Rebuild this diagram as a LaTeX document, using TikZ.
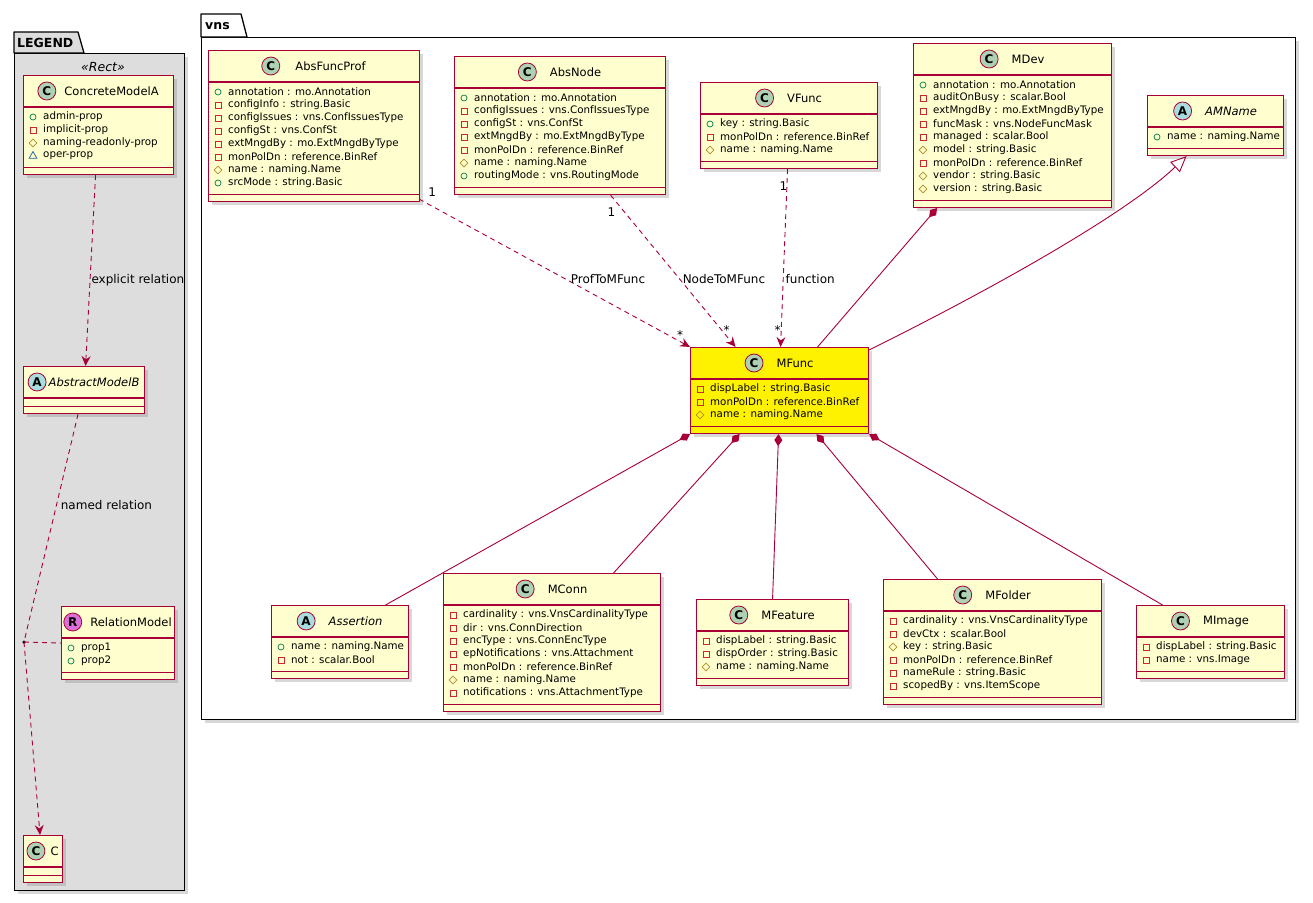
\documentclass[tikz,border=0pt]{standalone}
\usepackage{fontspec}
\setmainfont{DejaVu Sans}
\usepackage{xcolor}
\usepackage{tikz}
\usetikzlibrary{shapes,shapes.geometric,arrows.meta,calc,positioning,shadows}

\definecolor{crim}{HTML}{A80036}
\definecolor{cbox}{HTML}{FEFECE}
\definecolor{cicoC}{HTML}{ADD1B2}
\definecolor{cicoA}{HTML}{A9DCDF}
\definecolor{cicoR}{HTML}{DA70D6}
\definecolor{cpub}{HTML}{038048}
\definecolor{cpriv}{HTML}{C82930}
\definecolor{cprot}{HTML}{B38D22}
\definecolor{cpkg}{HTML}{1963A0}
\definecolor{cleg}{HTML}{DDDDDD}

\tikzset{
	shad/.style={drop shadow={shadow xshift=3pt, shadow yshift=-3pt, opacity=0.3}},
	cls/.style={rectangle, draw=crim, line width=1.1pt, clsfill, inner sep=0pt, shad},
	clsfill/.style={fill=cbox},
	clsrule/.style={draw=crim, line width=1.1pt},
	ttlC/.style={inner sep=0pt, font=\fontsize{11.5}{13}\selectfont},
	ttlA/.style={inner sep=0pt, font=\fontsize{11.5}{13}\selectfont\itshape},
	ttlR/.style={ttlC},
	ico/.style={circle, draw=crim, line width=0.8pt, minimum size=18pt, inner sep=0pt, font=\bfseries\fontsize{12}{12}\selectfont},
	icoC/.style={ico, fill=cicoC},
	icoA/.style={ico, fill=cicoA},
	icoR/.style={ico, fill=cicoR},
	attr/.style={anchor=west, inner sep=0pt, font=\fontsize{10.3}{12}\selectfont},
	vpub/.style={circle, draw=cpub, line width=0.7pt, minimum size=6pt, inner sep=0pt},
	vpriv/.style={rectangle, draw=cpriv, line width=0.7pt, minimum size=6pt, inner sep=0pt},
	vprot/.style={diamond, draw=cprot, line width=0.7pt, minimum size=8pt, inner sep=0pt},
	vpkg/.style={regular polygon, regular polygon sides=3, draw=cpkg, line width=0.7pt, minimum size=9pt, inner sep=0pt},
	pkg/.style={rectangle, anchor=north west, draw=black, line width=1.3pt, inner sep=0pt, shad},
	pkgline/.style={draw=black, line width=1.3pt, line join=round},
	pkgttl/.style={anchor=west, inner sep=0pt, font=\bfseries\fontsize{12.5}{14}\selectfont},
	stereo/.style={inner sep=0pt, font=\itshape\fontsize{12.5}{14}\selectfont},
	dep/.style={draw=crim, line width=0.9pt, dash pattern=on 5pt off 4pt, -{Stealth[length=10pt, width=9pt, inset=3.5pt]}},
	deplink/.style={draw=crim, line width=0.9pt, dash pattern=on 5pt off 4pt},
	comp/.style={draw=crim, line width=0.9pt, {Diamond[length=12pt, width=8pt]}-},
	gen/.style={draw=crim, line width=0.9pt, -{Triangle[open, length=16pt, width=14pt]}},
	lbl/.style={inner sep=0pt, font=\fontsize{12}{14}\selectfont},
	mult/.style={inner sep=0pt, font=\fontsize{12}{14}\selectfont},
	dotpt/.style={circle, fill=black, inner sep=0pt, minimum size=3.5pt}
}

% #1 gap, #2 name, #3 x, #4 y, #5 width, #6 lines, #7 kind, #8 title, #9 attributes
\newcommand{\umlclass}[9][13]{%
	\pgfmathsetmacro\clsheight{47+13*#6}
	\node[cls, minimum width=#5, minimum height=\clsheight, anchor=north west] (#2) at (#3,#4) {};
	\draw[clsrule] ([yshift=-32]#2.north west) -- ([yshift=-32]#2.north east);
	\draw[clsrule] ([yshift=8]#2.south west) -- ([yshift=8]#2.south east);
	\pgfmathsetmacro\ttlshift{(18+#1)/2}
	\node[ttl#7] (#2-ttl) at ([xshift=\ttlshift, yshift=-16]#2.north) {#8};
	\node[ico#7, left=#1pt of #2-ttl] {#7};
	\ifnum#6>0
	\foreach \vis/\txt [count=\i from 0] in {#9} {
		\node[\vis] at ([xshift=10, yshift=-42-13*\i]#2.north west) {};
		\node[attr] at ([xshift=20, yshift=-42-13*\i]#2.north west) {\txt};
	}
	\fi
}

\begin{document}
\begin{tikzpicture}[x=1pt, y=-1pt]
    \fill[white] (0,0) rectangle (1313,902);
    \useasboundingbox (0,0) rectangle (1313,902);

    % packages
    \node[pkg, fill=cleg, minimum width=170, minimum height=837] (legend) at (14,53) {};
    \draw[pkgline, fill=cleg] (14,53) -- (14,32) -- (78,32) -- (84,53) -- cycle;
    \node[pkgttl] at (17,43) {LEGEND};
    \node[stereo] at (103,67) {«Rect»};

    \node[pkg, fill=white, minimum width=1094, minimum height=682] (vns) at (201,37) {};
    \draw[pkgline, fill=white] (201,37) -- (201,14) -- (241,14) -- (247,37) -- cycle;
    \node[pkgttl] at (205,26) {vns};

    % legend classes
    \umlclass[8]{cma}{23}{75}{150}{4}{C}{ConcreteModelA}{vpub/admin-prop, vpriv/implicit-prop, vprot/naming-readonly-prop, vpkg/oper-prop}
    \umlclass[2]{amb}{23}{366}{121}{0}{A}{AbstractModelB}{}
    \umlclass[8]{rm}{61}{606}{113}{2}{R}{RelationModel}{vpub/prop1, vpub/prop2}
    \umlclass[5]{c}{23}{835}{39}{0}{C}{C}{}
    \node[dotpt] (nr) at (24,642) {};

    % vns classes
    \umlclass[15]{afp}{208}{50}{211}{8}{C}{AbsFuncProf}{vpub/annotation : mo.Annotation, vpriv/configInfo : string.Basic, vpriv/configIssues : vns.ConfIssuesType, vpriv/configSt : vns.ConfSt, vpriv/extMngdBy : mo.ExtMngdByType, vpriv/monPolDn : reference.BinRef, vprot/name : naming.Name, vpub/srcMode : string.Basic}
    \umlclass{an}{454}{56}{211}{7}{C}{AbsNode}{vpub/annotation : mo.Annotation, vpriv/configIssues : vns.ConfIssuesType, vpriv/configSt : vns.ConfSt, vpriv/extMngdBy : mo.ExtMngdByType, vpriv/monPolDn : reference.BinRef, vprot/name : naming.Name, vpub/routingMode : vns.RoutingMode}
    \umlclass{vf}{700}{82}{177}{3}{C}{VFunc}{vpub/key : string.Basic, vpriv/monPolDn : reference.BinRef, vprot/name : naming.Name}
    \umlclass{mdev}{913}{43}{198}{9}{C}{MDev}{vpub/annotation : mo.Annotation, vpriv/auditOnBusy : scalar.Bool, vpriv/extMngdBy : mo.ExtMngdByType, vpriv/funcMask : vns.NodeFuncMask, vpriv/managed : scalar.Bool, vprot/model : string.Basic, vpriv/monPolDn : reference.BinRef, vprot/vendor : string.Basic, vprot/version : string.Basic}
    \umlclass{amname}{1147}{95}{136}{1}{A}{AMName}{vpub/name : naming.Name}
    \begin{scope}[clsfill/.style={fill=yellow}]
    \umlclass{mfunc}{690}{347}{178}{3}{C}{MFunc}{vpriv/dispLabel : string.Basic, vpriv/monPolDn : reference.BinRef, vprot/name : naming.Name}
    \end{scope}
    \umlclass{assertion}{271}{605}{137}{2}{A}{Assertion}{vpub/name : naming.Name, vpriv/not : scalar.Bool}
    \umlclass{mconn}{443}{573}{217}{7}{C}{MConn}{vpriv/cardinality : vns.VnsCardinalityType, vpriv/dir : vns.ConnDirection, vpriv/encType : vns.ConnEncType, vpriv/epNotifications : vns.Attachment, vpriv/monPolDn : reference.BinRef, vprot/name : naming.Name, vpriv/notifications : vns.AttachmentType}
    \umlclass{mfeat}{696}{599}{152}{3}{C}{MFeature}{vpriv/dispLabel : string.Basic, vpriv/dispOrder : string.Basic, vprot/name : naming.Name}
    \umlclass{mfold}{883}{579}{218}{6}{C}{MFolder}{vpriv/cardinality : vns.VnsCardinalityType, vpriv/devCtx : scalar.Bool, vprot/key : string.Basic, vpriv/monPolDn : reference.BinRef, vpriv/nameRule : string.Basic, vpriv/scopedBy : vns.ItemScope}
    \umlclass{mimg}{1136}{605}{148}{2}{C}{MImage}{vpriv/dispLabel : string.Basic, vpriv/name : vns.Image}

    % legend relations
    \path ([xshift=-3]cma.south) edge[dep] node[lbl, pos=0.55, anchor=west, xshift=1] {explicit relation} ([xshift=1.5]amb.north);
    \draw[dep] ([xshift=-6]amb.south) -- node[lbl, pos=0.4, anchor=west, xshift=4] {named relation} (nr.center) -- ([xshift=-3]c.north);
    \path (nr.center) edge[deplink] (rm.west);

    % dependencies
    \path ([xshift=-1, yshift=3]afp.south east) edge[dep] node[mult, at start, xshift=13, yshift=7] {1} node[lbl, pos=0.54, anchor=west, xshift=5] {ProfToMFunc} node[mult, at end, xshift=-10, yshift=12] {*} (mfunc.north west);
    \path ([xshift=50.5]an.south) edge[dep] node[mult, at start, xshift=1, yshift=-17] {1} node[lbl, pos=0.55, anchor=west, xshift=3] {NodeToMFunc} node[mult, at end, xshift=-9, yshift=17] {*} ([xshift=-44]mfunc.north);
    \path ([xshift=-1.5]vf.south) edge[dep] node[mult, at start, xshift=-4, yshift=-17] {1} node[lbl, pos=0.62, anchor=west, xshift=2] {function} node[mult, at end, xshift=-3, yshift=17] {*} ([xshift=1]mfunc.north);

    % compositions and generalization
    \path ([xshift=24]mdev.south west) edge[comp] ([xshift=38]mfunc.north);
    \path (mfunc.south west) edge[comp] ([xshift=45.5]assertion.north);
    \path ([xshift=-40]mfunc.south) edge[comp] ([xshift=61.5]mconn.north);
    \path ([xshift=-1]mfunc.south) edge[comp] (mfeat.north);
    \path ([xshift=37]mfunc.south) edge[comp] ([xshift=-55]mfold.north);
    \path (mfunc.south east) edge[comp] ([xshift=-48]mimg.north);
    \draw[gen] ([yshift=-3]mfunc.north east) .. controls (1010,280) and (1130,210) .. ([xshift=-29]amname.south);
\end{tikzpicture}
\end{document}
